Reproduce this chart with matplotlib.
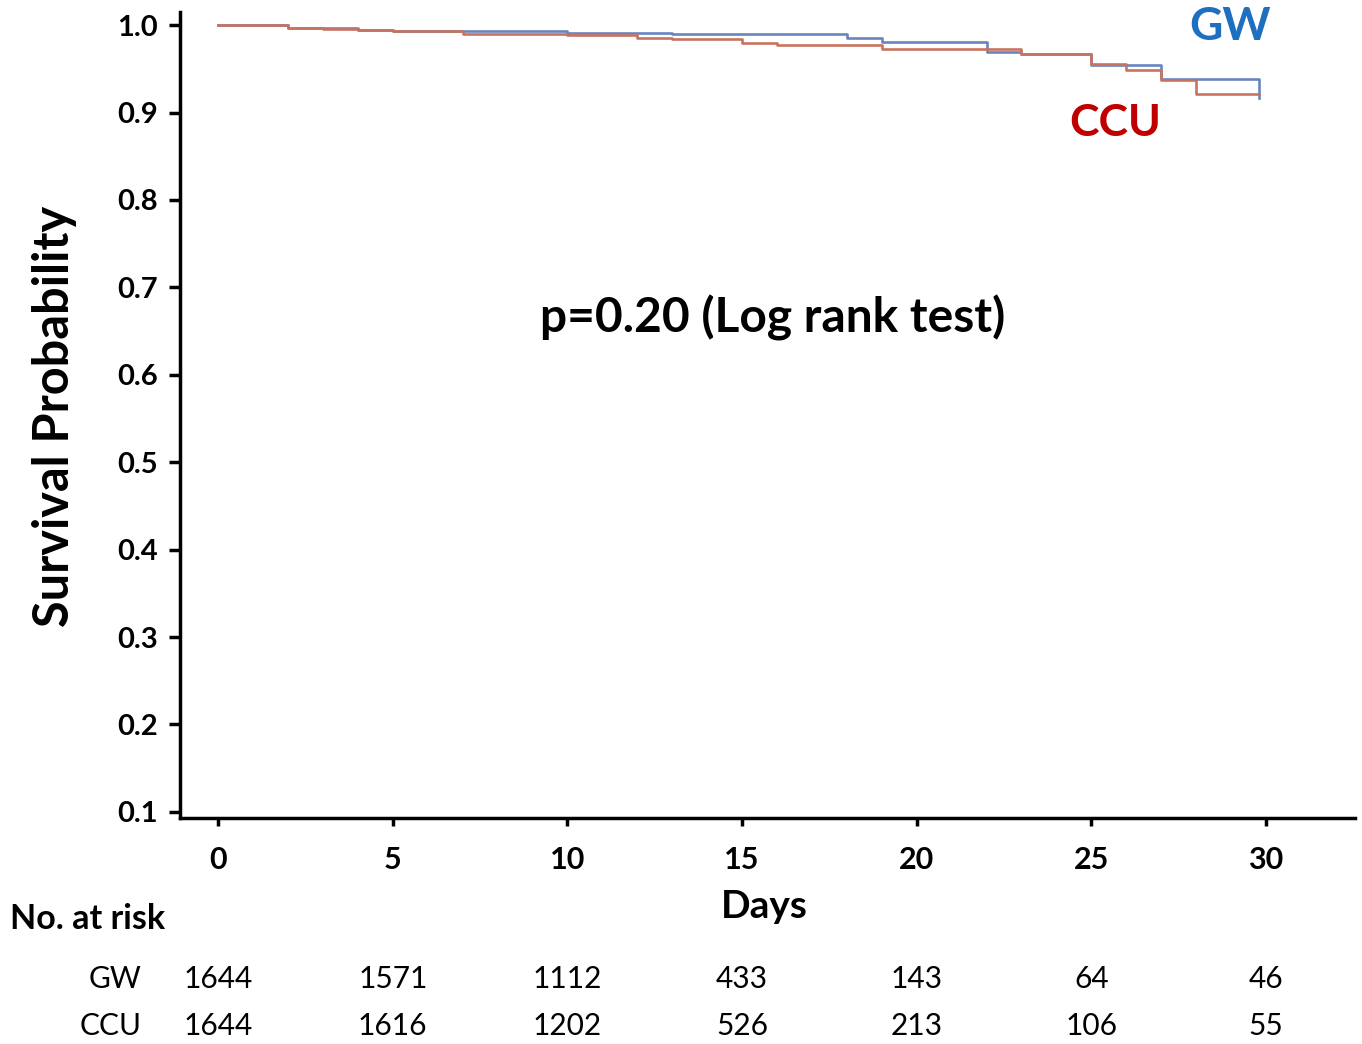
import matplotlib.pyplot as plt
import matplotlib.transforms as mtransforms

plt.rcParams["font.family"] = ["Lato", "DejaVu Sans"]

# Kaplan-Meier steps (days, survival)
gw_days = [0, 2, 4, 5, 10, 13, 18, 19, 22, 23, 25, 27, 29.8]
gw_surv = [1.000, 0.997, 0.994, 0.993, 0.991, 0.990, 0.985, 0.981, 0.969, 0.967, 0.954, 0.938, 0.917]
ccu_days = [0, 2, 3, 4, 5, 7, 10, 12, 13, 15, 16, 19, 23, 25, 26, 27, 28, 29.8]
ccu_surv = [1.000, 0.997, 0.996, 0.994, 0.993, 0.990, 0.989, 0.985, 0.984, 0.980, 0.977, 0.973, 0.967, 0.955, 0.949, 0.937, 0.921, 0.921]

risk_days = [0, 5, 10, 15, 20, 25, 30]
gw_risk = [1644, 1571, 1112, 433, 143, 64, 46]
ccu_risk = [1644, 1616, 1202, 526, 213, 106, 55]
y_ticks = [0.1, 0.2, 0.3, 0.4, 0.5, 0.6, 0.7, 0.8, 0.9, 1.0]

fig = plt.figure(figsize=(13.62, 10.44), dpi=100)
ax = fig.add_axes([0.1322, 0.2165, 0.8627, 0.772])

ax.step(gw_days, gw_surv, where="post", color="#6a84c0", linewidth=1.9)
ax.step(ccu_days, ccu_surv, where="post", color="#c8735f", linewidth=1.9)

ax.set_xlim(-1.09, 32.55)
ax.set_ylim(0.093, 1.015)
ax.set_xticks(risk_days)
ax.set_yticks(y_ticks)
ax.set_yticklabels([f"{v:.1f}" for v in y_ticks], fontsize=21, fontweight="bold")
ax.set_xticklabels([str(d) for d in risk_days], fontsize=22, fontweight="bold")
ax.tick_params(axis="y", direction="out", length=8, width=2.5, pad=8)
ax.tick_params(axis="x", direction="out", length=6, width=2.5, pad=14)
for side in ["top", "right"]:
    ax.spines[side].set_visible(False)
for side in ["left", "bottom"]:
    ax.spines[side].set_linewidth(2.5)
    ax.spines[side].set_color("#000000")

fig.text(0.040, 0.601, "Survival Probability", rotation=90, ha="center", va="center",
         fontsize=35, fontweight="bold")
fig.text(0.5675, 0.695, "p=0.20 (Log rank test)", ha="center", va="center",
         fontsize=34.5, fontweight="bold")
fig.text(0.903, 0.974, "GW", ha="center", va="center", fontsize=33, fontweight="bold", color="#1f6fc0")
fig.text(0.819, 0.882, "CCU", ha="center", va="center", fontsize=32, fontweight="bold", color="#c00000")

fig.text(0.561, 0.132, "Days", ha="center", va="center", fontsize=28, fontweight="bold")
fig.text(0.007, 0.120, "No. at risk", ha="left", va="center", fontsize=24.5, fontweight="bold")

trans = mtransforms.blended_transform_factory(ax.transData, fig.transFigure)
fig.text(0.104, 0.062, "GW", ha="right", va="center", fontsize=21.5)
fig.text(0.104, 0.017, "CCU", ha="right", va="center", fontsize=21.5)
for d, g, c in zip(risk_days, gw_risk, ccu_risk):
    ax.text(d, 0.062, str(g), transform=trans, ha="center", va="center", fontsize=21.5)
    ax.text(d, 0.017, str(c), transform=trans, ha="center", va="center", fontsize=21.5)

fig.savefig("out.png", dpi=100)
